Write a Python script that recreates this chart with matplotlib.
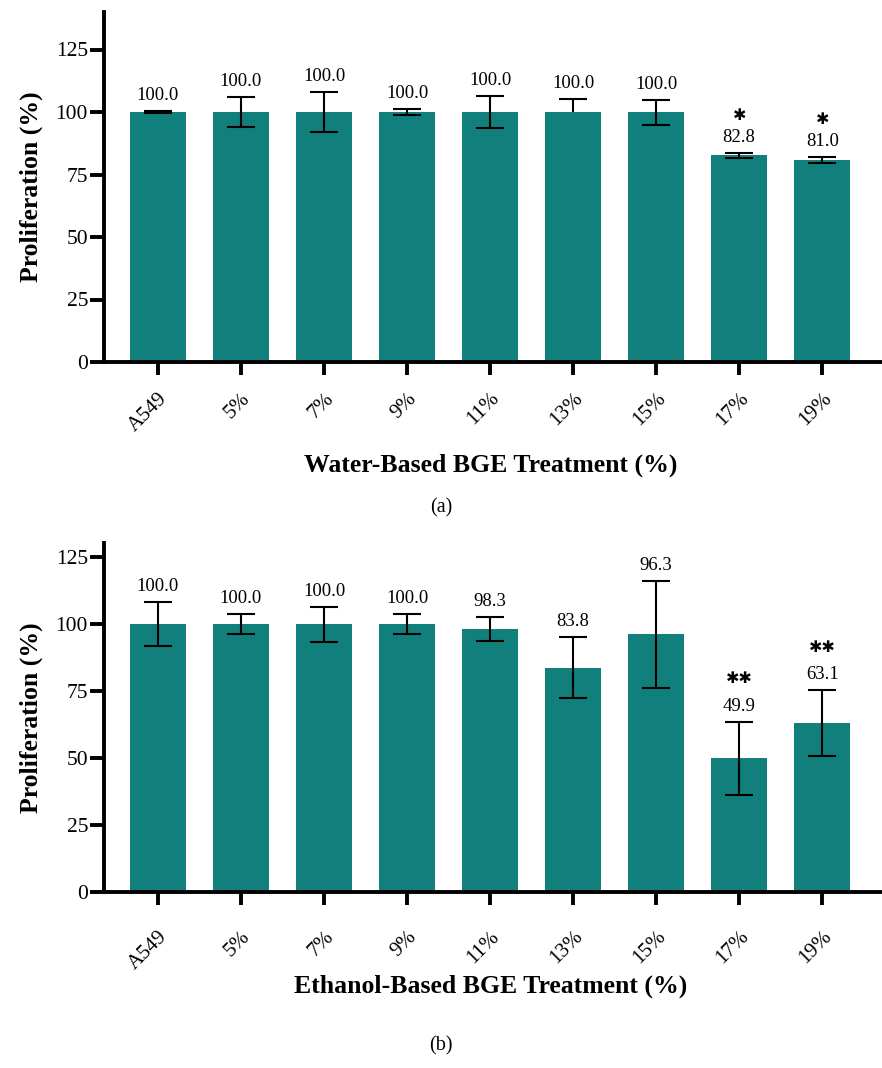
import matplotlib
matplotlib.use("Agg")
import matplotlib.pyplot as plt
import numpy as np

categories = ["A549", "5%", "7%", "9%", "11%", "13%", "15%", "17%", "19%"]

water_values = [100.0, 100.0, 100.0, 100.0, 100.0, 100.0, 100.0, 82.8, 81.0]
water_err = [0.5, 6.0, 8.0, 1.3, 6.3, 5.1, 5.0, 1.0, 1.2]
water_upper_only = [False, False, False, False, False, True, False, False, False]
water_stars = ["", "", "", "", "", "", "", "\u2731", "\u2731"]

ethanol_values = [100.0, 100.0, 100.0, 100.0, 98.3, 83.8, 96.3, 49.9, 63.1]
ethanol_err = [8.3, 3.7, 6.6, 3.7, 4.6, 11.3, 20.0, 13.7, 12.3]
ethanol_upper_only = [False] * 9
ethanol_stars = ["", "", "", "", "", "", "", "\u2731\u2731", "\u2731\u2731"]

yticks = [0, 25, 50, 75, 100, 125]

BAR_COLOR = "#117F7C"
SERIF = ["Liberation Serif", "DejaVu Serif"]

plt.rcParams["font.family"] = SERIF

fig = plt.figure(figsize=(8.82, 10.68), dpi=100)

W, H = 882.0, 1068.0
left = 104 / W


def panel(rect, values, err, upper_only, stars, ylim_top, xlabel, label_y,
          xpad, star_off):
    ax = fig.add_axes(rect)
    x = np.arange(len(categories))
    ax.bar(x, values, width=0.67, color=BAR_COLOR, zorder=2)
    vals = np.array(values)
    errs = np.array(err)
    uo = np.array(upper_only)
    m = ~uo
    ax.errorbar(x[m], vals[m], yerr=errs[m], fmt="none", ecolor="black",
                elinewidth=1.5, capsize=10, capthick=1.5, zorder=3)
    if uo.any():
        ax.errorbar(x[uo], vals[uo], yerr=errs[uo], fmt="none", ecolor="black",
                    elinewidth=1.5, capsize=10, capthick=1.5, zorder=1)
    for xi, v, e, s in zip(x, values, err, stars):
        ax.annotate(f"{v:.1f}", (xi, v + e), xytext=(0, 5),
                    textcoords="offset points", ha="center", va="bottom",
                    fontsize=13.5, family=SERIF)
        if s:
            ax.annotate(s, (xi, v + e), xytext=(0, star_off),
                        textcoords="offset points", ha="center", va="center",
                        fontsize=11.5, family=["DejaVu Sans"], fontweight="bold")
    ax.set_xlim(-0.65, 8.72)
    ax.set_ylim(0, ylim_top)
    ax.set_yticks(yticks)
    ax.set_xticks(x)
    ax.set_xticklabels(categories, rotation=45, ha="right", va="top",
                       rotation_mode="anchor", fontsize=15)
    ax.tick_params(axis="y", labelsize=15.5, length=10, width=2.8, pad=1.5)
    ax.tick_params(axis="x", length=9.5, width=2.8, pad=xpad)
    for side in ["top", "right"]:
        ax.spines[side].set_visible(False)
    for side in ["left", "bottom"]:
        ax.spines[side].set_linewidth(2.8)
    ax.set_ylabel("Proliferation (%)", fontsize=18.5, fontweight="bold")
    ax.yaxis.set_label_coords(-0.094, 0.5)
    ax.yaxis.label.set_va("center")
    ax.set_xlabel(xlabel, fontsize=18.5, fontweight="bold")
    ax.xaxis.set_label_coords(0.4975, label_y)
    ax.xaxis.label.set_va("center")
    return ax


# top panel: y=0 at 362 px, top at 12 px (ylim 140)
panel([left, 1 - 362 / H, 1 - left, (362 - 12) / H],
      water_values, water_err, water_upper_only, water_stars, 140,
      "Water-Based BGE Treatment (%)", -103 / 350, 10, 27)

# bottom panel: y=0 at 891.7 px, top at 542.7 px (ylim 130.5)
panel([left, 1 - 891.7 / H, 1 - left, (891.7 - 542.7) / H],
      ethanol_values, ethanol_err, ethanol_upper_only, ethanol_stars, 130.5,
      "Ethanol-Based BGE Treatment (%)", -95 / 349, 16, 31)

fig.text(441 / W, 1 - 508 / H, "(a)", ha="center", va="center", fontsize=14.5)
fig.text(441 / W, 1 - 1046 / H, "(b)", ha="center", va="center", fontsize=14.5)

fig.savefig("out.png", dpi=100)
